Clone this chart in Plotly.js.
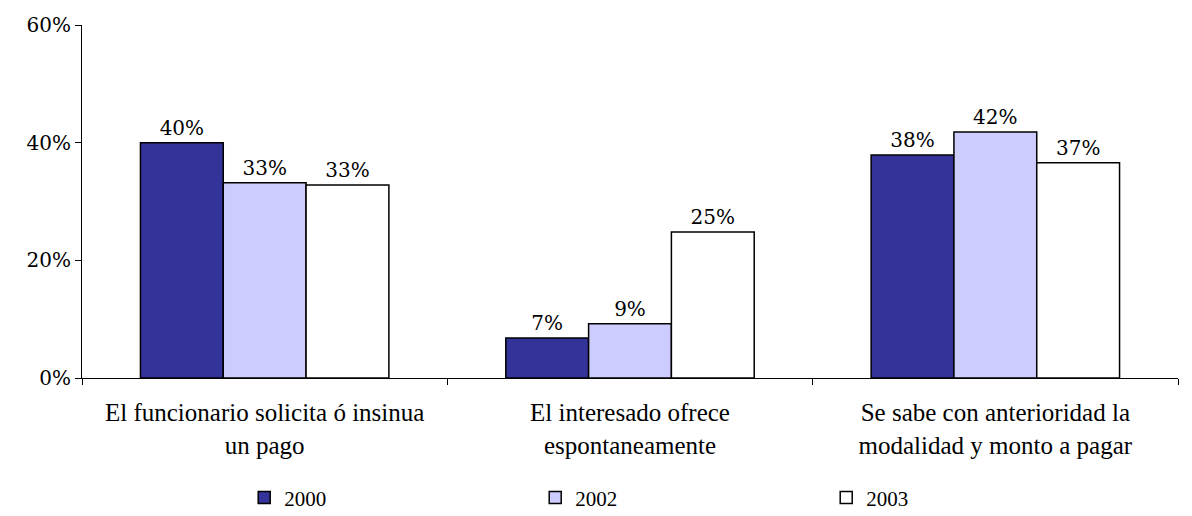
<!DOCTYPE html>
<html lang="es">
<head>
    <meta charset="UTF-8"/>
    <title>Pagos</title>
    <script src="https://cdn.plot.ly/plotly-3.0.1.min.js"></script>
    <style>
    body { margin: 0; background: white; }
    #chart { width: 1192px; height: 516px; }
    </style>
</head>
<body>
    <div id="chart"></div>
    <script>
        var categories = [
            'El funcionario solicita ó insinua<br>un pago',
            'El interesado ofrece<br>espontaneamente',
            'Se sabe con anterioridad la<br>modalidad y monto a pagar'
        ];
        var years = ['2000', '2002', '2003'];
        var values2000 = [40, 6.8, 37.9];
        var values2002 = [33.2, 9.2, 41.8];
        var values2003 = [32.8, 24.8, 36.6];
        var colors = ['#333399', '#CCCCFF', '#FFFFFF'];

        var serif = "'Liberation Serif', serif";
        var numFont = "'DejaVu Serif', serif";
        var series = [values2000, values2002, values2003];

        var data = series.map(function (vals, i) {
            return {
                x: categories,
                y: vals,
                name: years[i],
                type: 'bar',
                marker: { color: colors[i], line: { color: '#000', width: 1.5 } },
                texttemplate: '%{y:.0f}%',
                textposition: 'outside',
                cliponaxis: false,
                textfont: { family: numFont, size: 20, color: '#000' }
            };
        });

        var layout = {
            width: 1192,
            height: 516,
            margin: { l: 82, r: 14, t: 25, b: 138 },
            paper_bgcolor: 'white',
            plot_bgcolor: 'white',
            font: { family: serif, size: 20, color: '#000' },
            bargap: 0.32,
            bargroupgap: 0,
            showlegend: true,
            legend: {
                orientation: 'h',
                x: 0.148, xanchor: 'left',
                yref: 'container',
                y: 0.035, yanchor: 'middle',
                entrywidth: 246,
                font: { family: serif, size: 21 },
                itemwidth: 30
            },
            xaxis: {
                showline: true, linecolor: '#000', linewidth: 1,
                ticks: 'outside', tickson: 'boundaries', ticklen: 6, tickcolor: '#000',
                tickfont: { family: serif, size: 25 },
                ticklabelstandoff: 12,
                tickangle: 0,
                automargin: false
            },
            yaxis: {
                range: [0, 60],
                dtick: 20,
                ticksuffix: '%',
                showline: true, linecolor: '#000', linewidth: 1,
                ticks: 'outside', ticklen: 6, tickcolor: '#000',
                showgrid: false, zeroline: false,
                tickfont: { family: numFont, size: 20 },
                automargin: false
            }
        };

        Plotly.newPlot('chart', data, layout, { staticPlot: true });
    </script>
</body>
</html>
